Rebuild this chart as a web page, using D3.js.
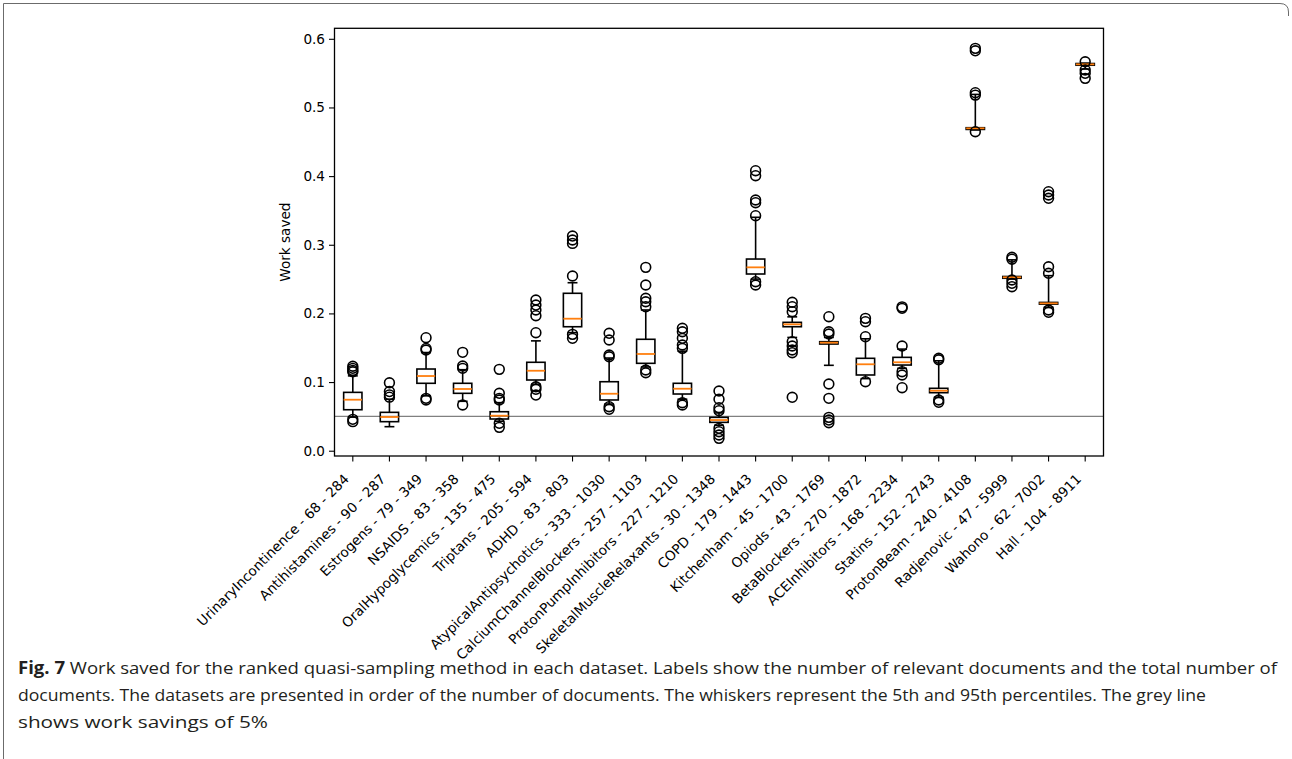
<!DOCTYPE html>
<html>
<head>
<meta charset="utf-8">
<script src="https://cdn.jsdelivr.net/npm/d3@7/dist/d3.min.js"></script>
<style>
  html, body { margin: 0; padding: 0; background: #fff; }
  svg { display: block; }
</style>
</head>
<body>
<svg id="chart" width="1292" height="759"></svg>
<script>
const categories = [
  "UrinaryIncontinence - 68 - 284", "Antihistamines - 90 - 287", "Estrogens - 79 - 349",
  "NSAIDS - 83 - 358", "OralHypoglycemics - 135 - 475", "Triptans - 205 - 594",
  "ADHD - 83 - 803", "AtypicalAntipsychotics - 333 - 1030", "CalciumChannelBlockers - 257 - 1103",
  "ProtonPumpInhibitors - 227 - 1210", "SkeletalMuscleRelaxants - 30 - 1348", "COPD - 179 - 1443",
  "Kitchenham - 45 - 1700", "Opiods - 43 - 1769", "BetaBlockers - 270 - 1872",
  "ACEInhibitors - 168 - 2234", "Statins - 152 - 2743", "ProtonBeam - 240 - 4108",
  "Radjenovic - 47 - 5999", "Wahono - 62 - 7002", "Hall - 104 - 8911"
];
const whiskerLow  = [0.049, 0.035, 0.080, 0.072, 0.043, 0.097, 0.172, 0.068, 0.122, 0.075, 0.037, 0.250, 0.165, 0.1244, 0.105, 0.120, 0.078, 0.4672, 0.250, 0.209, 0.556];
const q1          = [0.0597, 0.0423, 0.0982, 0.0836, 0.0462, 0.103, 0.1806, 0.0739, 0.1273, 0.0826, 0.0413, 0.2574, 0.1806, 0.1554, 0.1103, 0.1248, 0.0845, 0.468, 0.2512, 0.2135, 0.5615];
const medians     = [0.0743, 0.0491, 0.1088, 0.0899, 0.051, 0.1165, 0.1923, 0.083, 0.1409, 0.0903, 0.0447, 0.2671, 0.1841, 0.1574, 0.1259, 0.1288, 0.0874, 0.4696, 0.2526, 0.2147, 0.5628];
const q3          = [0.085, 0.0559, 0.119, 0.0982, 0.0568, 0.1288, 0.2293, 0.1005, 0.1623, 0.0982, 0.0486, 0.2792, 0.187, 0.1588, 0.1346, 0.136, 0.0909, 0.4705, 0.2538, 0.216, 0.564];
const whiskerHigh = [0.109, 0.075, 0.143, 0.118, 0.070, 0.160, 0.2447, 0.135, 0.205, 0.145, 0.055, 0.340, 0.195, 0.165, 0.163, 0.148, 0.131, 0.519, 0.278, 0.255, 0.5645];
const fliers = [
  [0.123, 0.120, 0.117, 0.115, 0.0457, 0.0423],
  [0.099, 0.0862, 0.0814, 0.078],
  [0.1646, 0.149, 0.1467, 0.0763, 0.0739],
  [0.1433, 0.1234, 0.120, 0.0666],
  [0.1185, 0.0836, 0.0763, 0.0739, 0.0399, 0.034],
  [0.2195, 0.2122, 0.205, 0.1967, 0.1719, 0.0932, 0.0894, 0.0811],
  [0.3127, 0.3069, 0.302, 0.2545, 0.1695, 0.1637],
  [0.171, 0.1613, 0.1394, 0.1369, 0.0641, 0.0603],
  [0.2671, 0.2414, 0.222, 0.217, 0.2098, 0.1176, 0.1136],
  [0.1783, 0.1733, 0.1637, 0.154, 0.1491, 0.0699, 0.0666],
  [0.087, 0.0749, 0.0627, 0.0583, 0.0326, 0.0277, 0.0229, 0.018],
  [0.4079, 0.4006, 0.3652, 0.3613, 0.3423, 0.2462, 0.2414],
  [0.2162, 0.2098, 0.2025, 0.1588, 0.1525, 0.1467, 0.1428, 0.0778],
  [0.1952, 0.1733, 0.170, 0.0972, 0.0763, 0.0486, 0.0447, 0.0408],
  [0.1928, 0.1879, 0.1661, 0.1005],
  [0.2095, 0.2074, 0.1525, 0.1151, 0.1103, 0.0918],
  [0.1346, 0.1325, 0.0739, 0.0705],
  [0.5861, 0.5825, 0.5215, 0.518, 0.4647],
  [0.2817, 0.279, 0.2487, 0.2438, 0.2389],
  [0.3773, 0.3725, 0.3677, 0.268, 0.2584, 0.205, 0.2016],
  [0.5665, 0.5546, 0.5497, 0.5424]
];
const yTicks = [0.0, 0.1, 0.2, 0.3, 0.4, 0.5, 0.6];
const referenceLine = 0.05;
const yLabel = "Work saved";
const captionBold = "Fig. 7";
const captionLines = [
  " Work saved for the ranked quasi-sampling method in each dataset. Labels show the number of relevant documents and the total number of",
  "documents. The datasets are presented in order of the number of documents. The whiskers represent the 5th and 95th percentiles. The grey line",
  "shows work savings of 5%"
];

const svg = d3.select("#chart");
const plot = { left: 334.5, right: 1103.5, top: 28.3, bottom: 456 };
const font = "DejaVu Sans, sans-serif";
const fs = 13.6;

// figure frame
svg.append("path")
  .attr("d", "M3.5,759 L3.5,3.5 L1280,3.5 Q1288.5,3.5 1288.5,12 L1288.5,16")
  .attr("fill", "none").attr("stroke", "#6b6b6b").attr("stroke-width", 1);

const x = d3.scaleBand().domain(categories).range([plot.left, plot.right]).paddingInner(0).paddingOuter(0);
const y = d3.scaleLinear().domain([-0.0077, 0.6153]).range([plot.bottom, plot.top]);
const bw = x.bandwidth();
const cx = c => x(c) + bw / 2;

const g = svg.append("g");

// reference line
g.append("line")
  .attr("x1", plot.left).attr("x2", plot.right)
  .attr("y1", y(referenceLine)).attr("y2", y(referenceLine))
  .attr("stroke", "#808080").attr("stroke-width", 1.1);

const boxW = bw * 0.5;
const capW = bw * 0.27;
const data = categories.map((c, i) => ({
  c, lo: whiskerLow[i], q1: q1[i], med: medians[i], q3: q3[i], hi: whiskerHigh[i], fl: fliers[i]
}));

const bx = g.selectAll("g.box").data(data).enter().append("g").attr("class", "box");
bx.append("line").attr("x1", d => cx(d.c)).attr("x2", d => cx(d.c))
  .attr("y1", d => y(d.q1)).attr("y2", d => y(d.lo))
  .attr("stroke", "#000").attr("stroke-width", 1.6);
bx.append("line").attr("x1", d => cx(d.c)).attr("x2", d => cx(d.c))
  .attr("y1", d => y(d.q3)).attr("y2", d => y(d.hi))
  .attr("stroke", "#000").attr("stroke-width", 1.6);
bx.append("line").attr("x1", d => cx(d.c) - capW / 2).attr("x2", d => cx(d.c) + capW / 2)
  .attr("y1", d => y(d.lo)).attr("y2", d => y(d.lo))
  .attr("stroke", "#000").attr("stroke-width", 1.6);
bx.append("line").attr("x1", d => cx(d.c) - capW / 2).attr("x2", d => cx(d.c) + capW / 2)
  .attr("y1", d => y(d.hi)).attr("y2", d => y(d.hi))
  .attr("stroke", "#000").attr("stroke-width", 1.6);
bx.append("rect")
  .attr("x", d => cx(d.c) - boxW / 2).attr("width", boxW)
  .attr("y", d => y(d.q3)).attr("height", d => y(d.q1) - y(d.q3))
  .attr("fill", "none").attr("stroke", "#000").attr("stroke-width", 1.6);
bx.append("line").attr("x1", d => cx(d.c) - boxW / 2).attr("x2", d => cx(d.c) + boxW / 2)
  .attr("y1", d => y(d.med)).attr("y2", d => y(d.med))
  .attr("stroke", "#ff7f0e").attr("stroke-width", 1.8);
bx.selectAll("circle").data(d => d.fl.map(v => ({ c: d.c, v }))).enter().append("circle")
  .attr("cx", d => cx(d.c)).attr("cy", d => y(d.v)).attr("r", 4.9)
  .attr("fill", "none").attr("stroke", "#000").attr("stroke-width", 1.6);

// axes
const yAxis = d3.axisLeft(y).tickValues(yTicks).tickFormat(d3.format(".1f")).tickSizeOuter(0).tickSize(5.5).tickPadding(4);
const ya = svg.append("g").attr("transform", `translate(${plot.left},0)`).call(yAxis);
ya.select(".domain").remove();
ya.selectAll("line").attr("stroke", "#000").attr("stroke-width", 1.1);
ya.selectAll("text").attr("font-family", font).attr("font-size", fs).attr("fill", "#000");

const xAxis = d3.axisBottom(x).tickSizeOuter(0).tickSize(5.5).tickFormat("");
const xa = svg.append("g").attr("transform", `translate(0,${plot.bottom})`).call(xAxis);
xa.select(".domain").remove();
xa.selectAll("line").attr("stroke", "#000").attr("stroke-width", 1.1);

svg.append("g").selectAll("text").data(categories).enter().append("text")
  .attr("transform", d => `translate(${cx(d) - 3},${plot.bottom + 24}) rotate(-45)`)
  .attr("text-anchor", "end")
  .attr("font-family", font).attr("font-size", fs).attr("fill", "#000")
  .text(d => d);

svg.append("rect")
  .attr("x", plot.left).attr("y", plot.top)
  .attr("width", plot.right - plot.left).attr("height", plot.bottom - plot.top)
  .attr("fill", "none").attr("stroke", "#000").attr("stroke-width", 1.3);

svg.append("text")
  .attr("transform", `translate(289.5,${(plot.top + plot.bottom) / 2}) rotate(-90)`)
  .attr("text-anchor", "middle")
  .attr("font-family", font).attr("font-size", fs).attr("fill", "#000")
  .text(yLabel);

// caption
const capFont = "'Open Sans', 'Noto Sans', sans-serif";
const capWidths = [1259, 1188, 250];
const capY = [674, 701, 728];
const t0 = svg.append("text")
  .attr("x", 18).attr("y", capY[0])
  .attr("font-family", capFont).attr("font-size", 17).attr("fill", "#231f20")
  .attr("textLength", capWidths[0]).attr("lengthAdjust", "spacingAndGlyphs");
t0.append("tspan").attr("font-weight", "bold").text(captionBold);
t0.append("tspan").text(captionLines[0]);
for (let i = 1; i < captionLines.length; i++) {
  svg.append("text")
    .attr("x", 18).attr("y", capY[i])
    .attr("font-family", capFont).attr("font-size", 17).attr("fill", "#231f20")
    .attr("textLength", capWidths[i]).attr("lengthAdjust", "spacingAndGlyphs")
    .text(captionLines[i]);
}
</script>
</body>
</html>
